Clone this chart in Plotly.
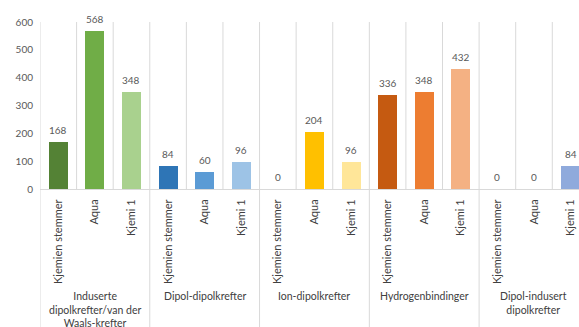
import plotly.graph_objects as go

# Intermolecular force groups and the three sources compared in each
groups = ["Induserte<br>dipolkrefter/van der<br>Waals-krefter", "Dipol-dipolkrefter",
          "Ion-dipolkrefter", "Hydrogenbindinger", "Dipol-indusert<br>dipolkrefter"]
sources = ["Kjemien stemmer", "Aqua", "Kjemi 1"]

values = [168, 568, 348,
          84, 60, 96,
          0, 204, 96,
          336, 348, 432,
          0, 0, 84]

colors = ["#548235", "#70AD47", "#A9D18E",
          "#2E75B6", "#5B9BD5", "#9DC3E6",
          "#BF9000", "#FFC000", "#FFE699",
          "#C55A11", "#ED7D31", "#F4B183",
          "#2F5597", "#4472C4", "#8FAADC"]

y_ticks = [0, 100, 200, 300, 400, 500, 600]

n = len(values)
xs = list(range(n))
labels = [sources[i % 3] for i in range(n)]

font_family = "Lato, 'Open Sans', sans-serif"
text_color = "#595959"
grid_color = "#D9D9D9"

fig = go.Figure(go.Bar(x=xs, y=values, marker=dict(color=colors, line=dict(width=0)),
                       width=0.52, showlegend=False, hoverinfo="skip"))

# value labels above each bar
annotations = []
for x, v in zip(xs, values):
    annotations.append(dict(x=x, y=v, xref="x", yref="y", text=str(v), showarrow=False,
                            yanchor="bottom", yshift=4,
                            font=dict(size=10, color=text_color, family=font_family)))

# group names under the rotated source labels
for g, name in enumerate(groups):
    annotations.append(dict(x=g * 3 + 1, y=-0.59, xref="x", yref="paper", text=name,
                            showarrow=False, yanchor="top", align="center",
                            font=dict(size=10.5, color="#404040", family=font_family)))

shapes = []
# light vertical gridlines between categories
for k in range(n + 1):
    shapes.append(dict(type="line", xref="x", yref="paper", x0=k - 0.5, x1=k - 0.5,
                       y0=0, y1=1, line=dict(color=grid_color, width=1), layer="below"))
# group dividers through the label area
for g in range(len(groups) + 1):
    shapes.append(dict(type="line", xref="x", yref="paper", x0=g * 3 - 0.5, x1=g * 3 - 0.5,
                       y0=0, y1=-0.85, line=dict(color=grid_color, width=1)))

fig.update_layout(
    width=579, height=327,
    margin=dict(l=40, r=0, t=22, b=138),
    paper_bgcolor="white", plot_bgcolor="white",
    bargap=0,
    annotations=annotations, shapes=shapes,
    xaxis=dict(range=[-0.5, 14.23], tickmode="array", tickvals=xs, ticktext=labels,
               tickangle=-90, showgrid=False, zeroline=False,
               showline=True, linecolor=grid_color, linewidth=1,
               ticks="outside", ticklen=5, tickcolor="rgba(0,0,0,0)",
               tickfont=dict(size=11, color="#404040", family=font_family)),
    yaxis=dict(range=[0, 600], tickvals=y_ticks, showgrid=False, zeroline=False,
               showline=False, ticks="", ticklabelstandoff=6,
               tickfont=dict(size=10, color=text_color, family=font_family)),
)

fig.write_html("out.html")
